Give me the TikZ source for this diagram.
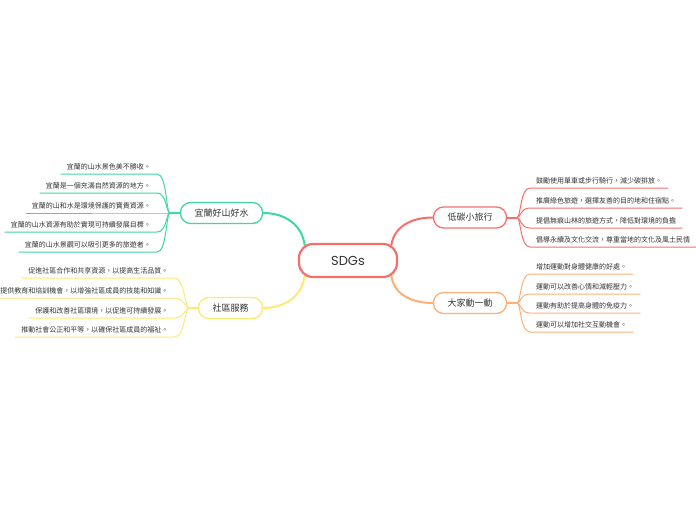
\documentclass[tikz,border=0pt]{standalone}
\usepackage{fontspec}
\newfontfamily\cjk{Noto Sans CJK TC}
\newfontfamily\pop{Poppins}
\usetikzlibrary{backgrounds}
\definecolor{cred}{HTML}{F6706B}
\definecolor{cgreen}{HTML}{3FD7A2}
\definecolor{corange}{HTML}{FFAF78}
\definecolor{cyellow}{HTML}{FFE876}
\definecolor{ctext}{HTML}{333333}
\begin{document}
\begin{tikzpicture}[x=1pt,y=-1pt,
 leaf/.style={font=\cjk\fontsize{7}{8}\selectfont, text=ctext, inner xsep=6pt, inner ysep=0pt, text height=6pt, text depth=4.5pt},
 rleaf/.style={leaf, anchor=south west},
 lleaf/.style={leaf, anchor=south east},
 topic/.style={draw, line width=1.3pt, fill=white, rounded corners=10pt, minimum height=21pt, inner xsep=14pt, inner ysep=2pt, font=\cjk\fontsize{9}{10}\selectfont, text=ctext},
 trunk/.style={line width=2pt},
 twig/.style={line width=1pt},
]
\useasboundingbox (0,0) rectangle (696,520);

\node[draw=cred, line width=2.2pt, fill=white, rounded corners=14pt, minimum width=98pt, minimum height=33pt, font=\pop\fontsize{13}{14}\selectfont, text=ctext] (c) at (348,260.5) {SDGs};

\node[topic, draw=cred] (t1) at (470,217.5) {低碳小旅行};
\node[topic, draw=corange] (t2) at (470,303) {大家動一動};
\node[topic, draw=cgreen] (t3) at (221.5,213) {宜蘭好山好水};
\node[topic, draw=cyellow] (t4) at (230.5,308) {社區服務};

% right top leaves
\node[rleaf] (a1) at (530,188) {鼓勵使用單車或步行騎行，減少碳排放。};
\node[rleaf] (a2) at (530,208) {推廣綠色旅遊，選擇友善的目的地和住宿點。};
\node[rleaf] (a3) at (530,228) {提倡無痕山林的旅遊方式，降低對環境的負擔};
\node[rleaf] (a4) at (530,247) {倡導永續及文化交流，尊重當地的文化及風土民情};
% right bottom leaves
\node[rleaf] (b1) at (530,274) {增加運動對身體健康的好處。};
\node[rleaf] (b2) at (530,294) {運動可以改善心情和減輕壓力。};
\node[rleaf] (b3) at (530,313) {運動有助於提高身體的免疫力。};
\node[rleaf] (b4) at (530,332) {運動可以增加社交互動機會。};
% left top leaves
\node[lleaf] (g1) at (157,174) {宜蘭的山水景色美不勝收。};
\node[lleaf] (g2) at (157,193) {宜蘭是一個充滿自然資源的地方。};
\node[lleaf] (g3) at (157,213) {宜蘭的山和水是環境保護的寶貴資源。};
\node[lleaf] (g4) at (157,232) {宜蘭的山水資源有助於實現可持續發展目標。};
\node[lleaf] (g5) at (157,252) {宜蘭的山水景觀可以吸引更多的旅遊者。};
% left bottom leaves
\node[lleaf] (y1) at (174.5,278) {促進社區合作和共享資源，以提高生活品質。};
\node[lleaf] (y2) at (174.5,298) {提供教育和培訓機會，以增強社區成員的技能和知識。};
\node[lleaf] (y3) at (174.5,318) {保護和改善社區環境，以促進可持續發展。};
\node[lleaf] (y4) at (174.5,337) {推動社會公正和平等，以確保社區成員的福祉。};

\coordinate (ja) at (517,217.5);
\coordinate (jb) at (517,303);
\coordinate (jg) at (170,213);
\coordinate (jy) at (189,308);

\draw[cred,trunk] (t1.east) -- (ja);
\foreach \n in {a1,a2,a3,a4}
  \draw[cred,twig] (ja) .. controls +(4,0) and +(-10,0) .. (\n.south west) -- (\n.south east);
\draw[corange,trunk] (t2.east) -- (jb);
\foreach \n in {b1,b2,b3,b4}
  \draw[corange,twig] (jb) .. controls +(4,0) and +(-10,0) .. (\n.south west) -- (\n.south east);
\draw[cgreen,trunk] (t3.west) -- (jg);
\foreach \n in {g1,g2,g3,g4,g5}
  \draw[cgreen,twig] (jg) .. controls +(-4,0) and +(10,0) .. (\n.south east) -- (\n.south west);
\draw[cyellow,trunk] (t4.west) -- (jy);
\foreach \n in {y1,y2,y3,y4}
  \draw[cyellow,twig] (jy) .. controls +(-4,0) and +(10,0) .. (\n.south east) -- (\n.south west);

\begin{scope}[on background layer]
\fill[white] (0,0) rectangle (696,520);
\draw[cred,trunk] ([shift={(-7,4)}]c.north east) .. controls +(2,-20) and +(-22,0) .. (t1.west);
\draw[corange,trunk] ([shift={(-7,-4)}]c.south east) .. controls +(2,20) and +(-22,0) .. (t2.west);
\draw[cgreen,trunk] ([shift={(7,4)}]c.north west) .. controls +(-2,-22) and +(22,0) .. (t3.east);
\draw[cyellow,trunk] ([shift={(7,-4)}]c.south west) .. controls +(-2,22) and +(22,0) .. (t4.east);
\end{scope}
\end{tikzpicture}
\end{document}
